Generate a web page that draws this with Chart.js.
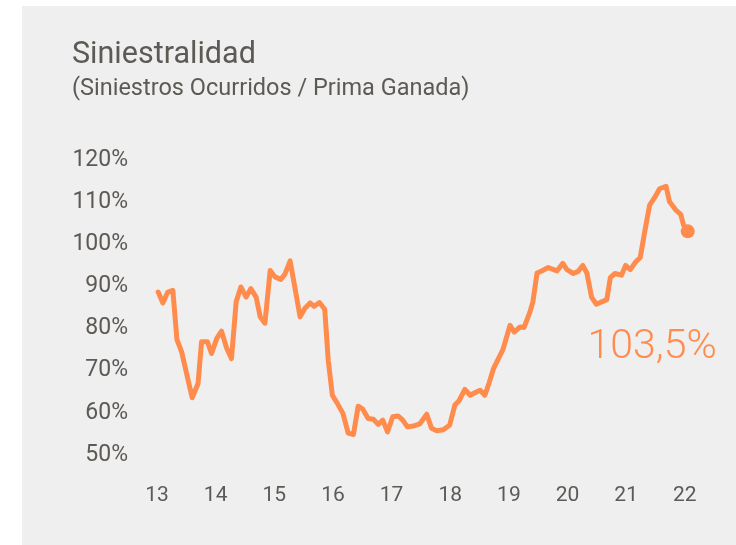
<!DOCTYPE html>
<html><head><meta charset="utf-8">
<script src="https://cdn.jsdelivr.net/npm/chart.js@4.4.0/dist/chart.umd.min.js"></script>
<style>
html,body{margin:0;padding:0;background:#ffffff;}
#panel{position:absolute;left:22px;top:6px;width:714px;height:539px;background:#efefef;}
canvas{display:block;}
</style></head><body>
<div id="panel"><canvas id="c" width="714" height="539"></canvas></div>
<script>
const titleText = 'Siniestralidad';
const subtitleText = '(Siniestros Ocurridos / Prima Ganada)';
const lastLabel = '103,5%';
const xTicks = [13, 14, 15, 16, 17, 18, 19, 20, 21, 22];
const yTicks = [50, 60, 70, 80, 90, 100, 110, 120];
const years = [13.02,13.10,13.18,13.27,13.34,13.42,13.60,13.70,13.76,13.86,13.93,
  14.02,14.10,14.19,14.27,14.35,14.43,14.52,14.60,14.69,14.76,14.84,14.93,
  15.01,15.11,15.18,15.27,15.44,15.52,15.61,15.68,15.77,15.86,15.92,15.99,
  16.07,16.17,16.26,16.35,16.43,16.51,16.60,16.69,16.77,16.85,16.93,
  17.02,17.11,17.19,17.27,17.37,17.48,17.60,17.68,17.77,17.88,17.99,
  18.08,18.15,18.25,18.34,18.42,18.51,18.59,18.66,18.74,18.90,
  19.02,19.09,19.19,19.26,19.36,19.41,19.48,19.56,19.67,19.82,19.92,19.99,
  20.10,20.18,20.26,20.33,20.41,20.49,20.67,20.73,20.81,20.92,20.99,
  21.07,21.16,21.24,21.32,21.40,21.49,21.57,21.68,21.74,21.85,21.93,21.98,22.05];
const ratios = [88.2,85.6,88.1,88.6,76.9,74.0,63.1,66.5,76.4,76.4,73.6,
  77.2,78.9,74.8,72.4,85.9,89.4,87.0,89.0,87.0,82.3,80.8,93.3,
  91.8,91.2,92.4,95.6,82.3,84.3,85.6,84.8,85.7,84.1,72.0,63.7,
  61.9,59.4,54.7,54.4,61.1,60.4,58.2,58.0,56.8,57.8,55.0,
  58.6,58.8,57.8,56.2,56.4,56.9,59.2,55.9,55.3,55.5,56.6,
  61.4,62.4,65.1,63.7,64.3,64.9,63.7,66.5,70.1,74.6,
  80.3,78.7,79.9,79.8,83.5,85.9,92.7,93.2,94.0,93.2,95.0,93.5,
  92.6,93.1,94.5,92.7,87.0,85.3,86.4,91.6,92.6,92.2,94.5,
  93.5,95.3,96.4,102.8,108.8,110.7,112.7,113.3,109.6,107.6,106.6,104.0,102.6];

const ORANGE = '#ff8c4c';
const TEXT = '#5d5955';
const lastIdx = ratios.length - 1;

const textPlugin = {
  id: 'texts',
  afterDraw(chart) {
    const ctx = chart.ctx;
    ctx.save();
    ctx.fillStyle = TEXT;
    ctx.textAlign = 'left';
    ctx.textBaseline = 'alphabetic';
    ctx.font = '400 30.5px Roboto';
    ctx.fillText(titleText, 50, 57);
    ctx.font = '400 23.5px Roboto';
    ctx.fillText(subtitleText, 50, 89);
    const xs = chart.scales.x, ys = chart.scales.y;
    ctx.fillStyle = ORANGE;
    ctx.textAlign = 'right';
    ctx.font = '300 41px Roboto';
    ctx.fillText(lastLabel, xs.getPixelForValue(years[lastIdx]) + 29, ys.getPixelForValue(72.5));
    ctx.restore();
  }
};

new Chart(document.getElementById('c'), {
  type: 'line',
  data: {
    datasets: [{
      data: years.map((t, i) => ({ x: t, y: ratios[i] })),
      borderColor: ORANGE,
      backgroundColor: ORANGE,
      borderWidth: 5,
      borderJoinStyle: 'round',
      borderCapStyle: 'round',
      tension: 0,
      pointRadius: ctx => ctx.dataIndex === lastIdx ? 7 : 0,
      pointHoverRadius: 0,
      pointBorderWidth: 0,
      pointBackgroundColor: ORANGE,
      clip: false
    }]
  },
  options: {
    responsive: false,
    animation: false,
    events: [],
    layout: { padding: { left: 18, right: 16, top: 152, bottom: 32 } },
    plugins: { legend: { display: false }, tooltip: { enabled: false }, title: { display: false } },
    scales: {
      x: {
        type: 'linear',
        min: 12.71,
        max: 22.6,
        afterBuildTicks: s => { s.ticks = xTicks.map(v => ({ value: v })); },
        afterFit: s => { s.height = 60; },
        grid: { display: false, drawTicks: false },
        border: { display: false },
        ticks: {
          color: TEXT,
          font: { family: 'Roboto', size: 21 },
          padding: 30,
          maxRotation: 0,
          autoSkip: false,
          callback: v => String(v)
        }
      },
      y: {
        min: 50,
        max: 120,
        afterBuildTicks: s => { s.ticks = yTicks.map(v => ({ value: v })); },
        afterFit: s => { s.width = 100; },
        grid: { display: false, drawTicks: false },
        border: { display: false },
        ticks: {
          color: TEXT,
          font: { family: 'Roboto', size: 23 },
          padding: 12,
          labelOffset: 2,
          callback: v => v + '%'
        }
      }
    }
  },
  plugins: [textPlugin]
});
</script>
</body></html>
